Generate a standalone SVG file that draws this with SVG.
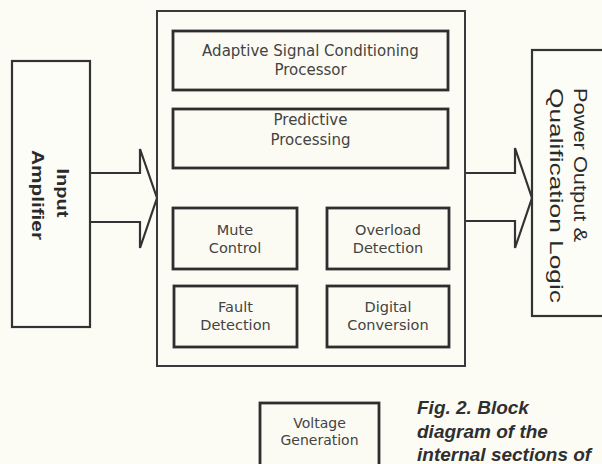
<svg xmlns="http://www.w3.org/2000/svg" width="602" height="464" viewBox="0 0 602 464">
<style>
.bg{fill:#fcfcf5}
.outer{fill:none;stroke:#3a3a3a;stroke-width:2}
.blk{fill:#fcfbf3;stroke:#2e2e2e;stroke-width:2.8}
.ext{fill:#fdfdf8;stroke:#333;stroke-width:2.2}
.arr{fill:none;stroke:#333;stroke-width:2.2;stroke-linejoin:miter}
.t{font-family:"DejaVu Sans",sans-serif;font-size:14.5px;fill:#434343;text-anchor:middle}
.tl{font-family:"DejaVu Sans",sans-serif;font-size:15px;fill:#434343;text-anchor:middle}
.ts{font-family:"DejaVu Sans",sans-serif;font-size:14px;fill:#434343;text-anchor:middle}
.vb{font-family:"Liberation Sans",Arial,sans-serif;font-weight:bold;font-size:17px;fill:#2a2a2a}
.vr{font-family:"Liberation Sans",Arial,sans-serif;font-size:19px;fill:#2a2a2a}
.cap{font-family:"Liberation Sans",Arial,sans-serif;font-weight:bold;font-style:italic;font-size:19px;fill:#2f2f2f}
</style>
<rect class="bg" x="0" y="0" width="602" height="464"/>

<g id="connectors">
<path class="arr" d="M90,173 H140 V149 L157,198 L140,248 V222 H90"/>
<path class="arr" d="M465,173 H515 V148 L532,198 L515,248 V221 H465"/>
</g>

<g id="input-amplifier">
<rect class="ext" x="12" y="61" width="78" height="266"/>
<text class="vb" transform="translate(57,193) rotate(90)" text-anchor="middle" textLength="49" lengthAdjust="spacingAndGlyphs">Input</text>
<text class="vb" transform="translate(32,195) rotate(90)" text-anchor="middle" textLength="90" lengthAdjust="spacingAndGlyphs">Amplifier</text>
</g>

<g id="processor">
<rect class="outer" x="157" y="11" width="308" height="355"/>
</g>

<g id="adaptive-signal">
<rect class="blk" x="173" y="31" width="275" height="59"/>
<text class="tl" x="310.5" y="56">Adaptive Signal Conditioning</text>
<text class="tl" x="310.5" y="75">Processor</text>
</g>

<g id="predictive">
<rect class="blk" x="173" y="109" width="275" height="59"/>
<text class="tl" x="310.5" y="125">Predictive</text>
<text class="tl" x="310.5" y="145">Processing</text>
</g>

<g id="mute-control">
<rect class="blk" x="173" y="208" width="124" height="61"/>
<text class="t" x="235" y="235">Mute</text>
<text class="t" x="235" y="253">Control</text>
</g>

<g id="overload-detection">
<rect class="blk" x="327" y="208" width="122" height="61"/>
<text class="t" x="388" y="235">Overload</text>
<text class="t" x="388" y="253">Detection</text>
</g>

<g id="fault-detection">
<rect class="blk" x="174" y="286" width="123" height="61"/>
<text class="t" x="235.5" y="312">Fault</text>
<text class="t" x="235.5" y="330">Detection</text>
</g>

<g id="digital-conversion">
<rect class="blk" x="327" y="286" width="122" height="61"/>
<text class="t" x="388" y="312">Digital</text>
<text class="t" x="388" y="330">Conversion</text>
</g>

<g id="power-output">
<rect class="ext" x="532" y="50" width="90" height="266"/>
<text class="vr" transform="translate(574,88) rotate(90)" textLength="154" lengthAdjust="spacingAndGlyphs">Power Output &amp;</text>
<text class="vr" transform="translate(550,88) rotate(90)" textLength="215" lengthAdjust="spacingAndGlyphs">Qualification Logic</text>
</g>

<g id="voltage-generation">
<rect class="blk" x="260" y="403" width="119" height="80"/>
<text class="ts" x="319.5" y="428">Voltage</text>
<text class="ts" x="319.5" y="445">Generation</text>
</g>

<g id="caption">
<text class="cap" x="417" y="414">Fig. 2. Block</text>
<text class="cap" x="417" y="438">diagram of the</text>
<text class="cap" x="417" y="461">internal sections of</text>
</g>
</svg>
